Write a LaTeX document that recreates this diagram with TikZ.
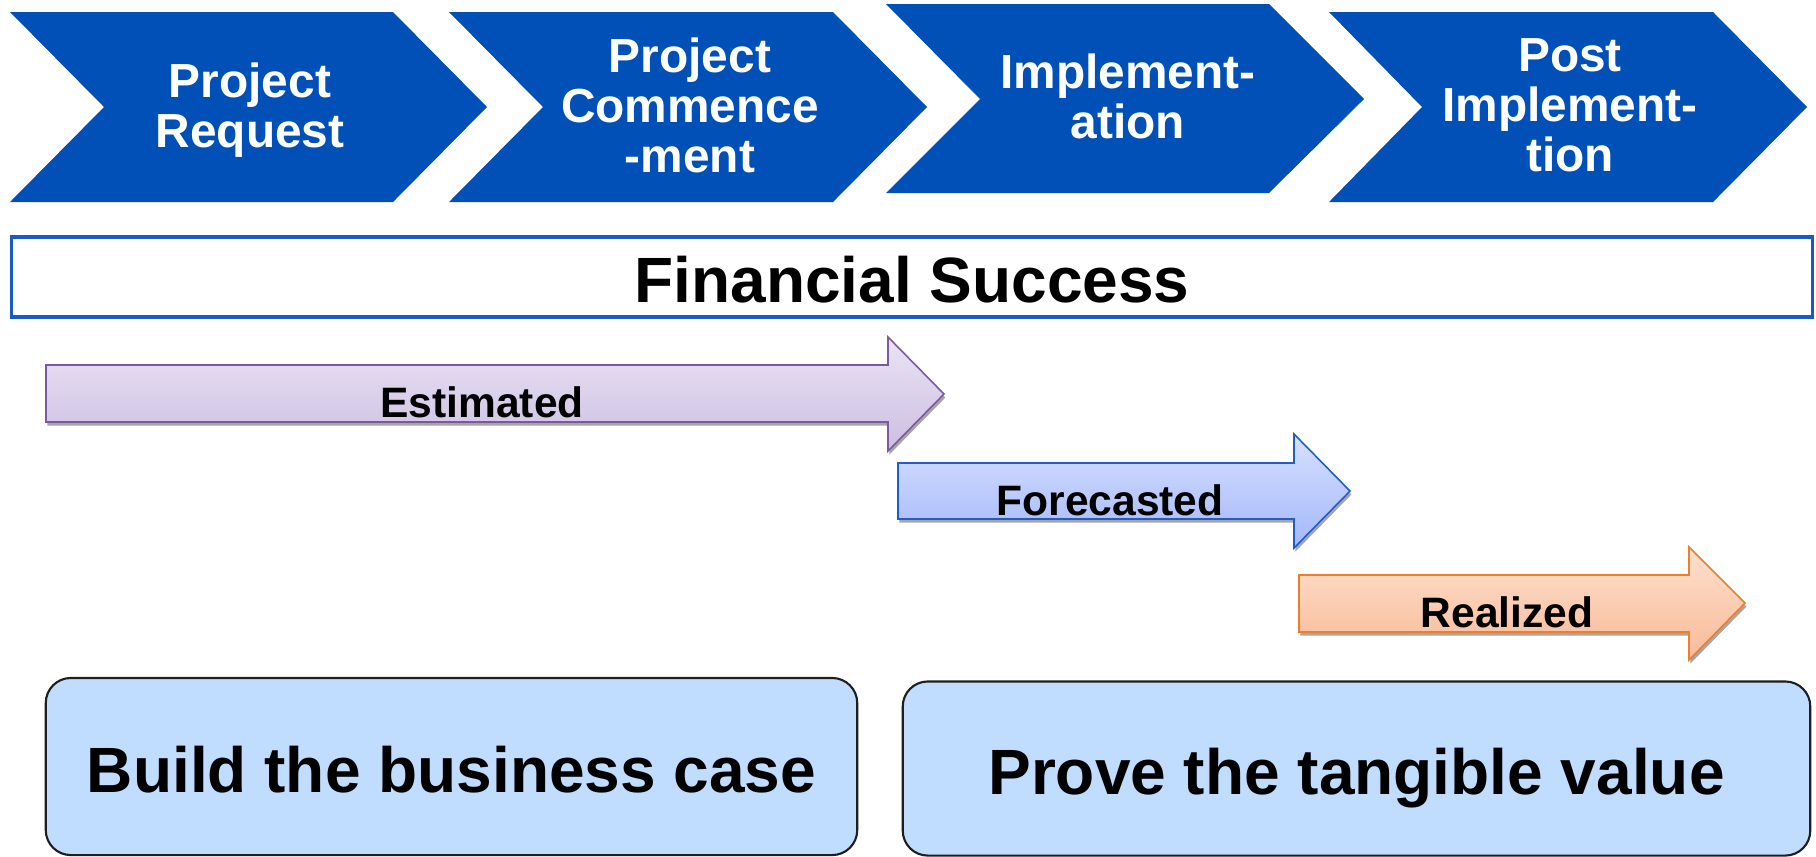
\documentclass[tikz,border=0pt]{standalone}
\usepackage{fontspec}
\setmainfont{Liberation Sans}
\usetikzlibrary{shadows}
\definecolor{chevblue}{RGB}{0,80,184}
\definecolor{finblue}{RGB}{24,90,200}
\definecolor{estline}{RGB}{122,90,158}
\definecolor{esttop}{RGB}{234,228,244}
\definecolor{estbot}{RGB}{204,190,226}
\definecolor{foreline}{RGB}{30,94,204}
\definecolor{foretop}{RGB}{214,224,255}
\definecolor{forebot}{RGB}{164,184,250}
\definecolor{realline}{RGB}{240,125,40}
\definecolor{realtop}{RGB}{253,224,206}
\definecolor{realbot}{RGB}{249,186,152}
\definecolor{boxfill}{RGB}{192,220,254}
\definecolor{boxline}{RGB}{30,30,30}
\tikzset{chev/.style={fill=chevblue}}
\tikzset{phase/.style={text=white, align=center, inner sep=0pt, font=\bfseries\fontsize{13.6}{14.2}\selectfont}}
\tikzset{flow/.style={line width=0.45pt, line join=miter,
  drop shadow={shadow xshift=0.4pt, shadow yshift=-1pt, opacity=0.35, fill=black}}}
\tikzset{tag/.style={anchor=base, inner sep=0pt, font=\bfseries\fontsize{12.1}{14}\selectfont}}
\tikzset{goal/.style={draw=boxline, fill=boxfill, rounded corners=0.25cm, line width=0.6pt,
  inner sep=0pt, text height=14.6pt, text depth=0pt, font=\bfseries\fontsize{18.2}{20}\selectfont}}

\begin{document}
\begin{tikzpicture}[x=0.01cm, y=-0.01cm]
\useasboundingbox (0,0) rectangle (1816,856);

% phases
\fill[chev] (10,12) -- (393,12) -- (487,107) -- (393,202) -- (10,202) -- (104,107) -- cycle;
\node[phase] (req) at (250,110) {Project\\Request};

\fill[chev] (449,12) -- (833,12) -- (927,107) -- (833,202) -- (449,202) -- (543,107) -- cycle;
\node[phase] (comm) at (690,105) {Project\\Commence\\-ment};

\fill[chev] (886,4) -- (1269,4) -- (1364,99) -- (1269,193) -- (886,193) -- (980,99) -- cycle;
\node[phase] (impl) at (1128,96) {Implement-\\ation};

\fill[chev] (1329,12) -- (1713,12) -- (1807,107) -- (1713,202) -- (1329,202) -- (1422,107) -- cycle;
\node[phase] (post) at (1570,105) {Post\\Implement-\\tion};

\node[draw=finblue, line width=1.1pt, minimum width=18cm, minimum height=0.8cm,
  inner sep=0pt, text height=14.4pt, text depth=0pt,
  font=\bfseries\fontsize{18.2}{20}\selectfont] (fin) at (912,277) {Financial Success};

% value arrows
\draw[flow, draw=estline, top color=esttop, bottom color=estbot]
  (46,365) -- (888,365) -- (888,337) -- (944,394) -- (888,451) -- (888,422) -- (46,422) -- cycle;
\node[tag] (est) at (482,417) {Estimated};

\draw[flow, draw=foreline, top color=foretop, bottom color=forebot]
  (898,463) -- (1294,463) -- (1294,434) -- (1350,491) -- (1294,548) -- (1294,519) -- (898,519) -- cycle;
\node[tag] (fore) at (1110,515) {Forecasted};

\draw[flow, draw=realline, top color=realtop, bottom color=realbot]
  (1299,575) -- (1689,575) -- (1689,547) -- (1745,603) -- (1689,660) -- (1689,632) -- (1299,632) -- cycle;
\node[tag] (real) at (1507,627) {Realized};

% goals
\node[goal, minimum width=8.11cm, minimum height=1.77cm] (build) at (451.5,766.5) {Build the business case};
\node[goal, minimum width=9.07cm, minimum height=1.74cm] (prove) at (1356.5,768.5) {Prove the tangible value};

\end{tikzpicture}
\end{document}
